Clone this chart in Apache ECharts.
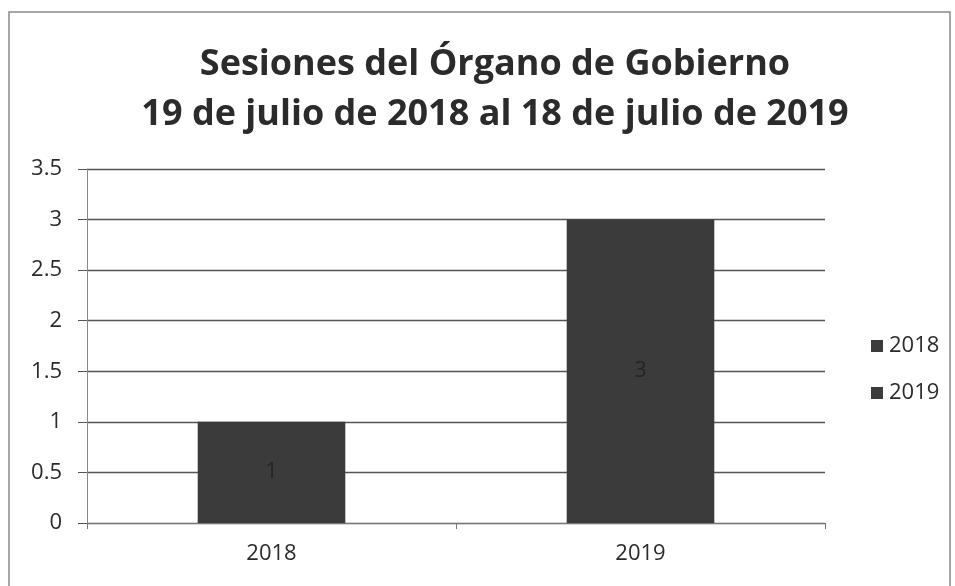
<!DOCTYPE html>
<html><head><meta charset="utf-8">
<script src="https://cdn.jsdelivr.net/npm/echarts@6/dist/echarts.min.js"></script>
<style>html,body{margin:0;padding:0;background:#fff}#c{width:955px;height:586px}</style>
</head><body><div id="c"></div>
<script>
const titleLines = ['Sesiones del Órgano de Gobierno', '19 de julio de 2018 al 18 de julio de 2019'];
const categories = ['2018', '2019'];
const seriesNames = ['2018', '2019'];
const values2018 = [1, '-'];
const values2019 = ['-', 3];
const yTicks = { min: 0, max: 3.5, interval: 0.5 };

const chart = echarts.init(document.getElementById('c'));
const font = '"Open Sans", sans-serif';
const barColor = '#3b3b3b';
const mkSeries = (name, data) => ({
  name, type: 'bar', stack: 's', data, barWidth: '40%',
  itemStyle: { color: barColor },
  label: { show: true, position: 'inside', color: '#242424', fontSize: 21, fontFamily: font },
  emphasis: { disabled: true }
});
chart.setOption({
  animation: false,
  title: {
    text: titleLines.join('\n'), left: 490, textAlign: 'center', top: 35,
    textStyle: { fontFamily: font, fontWeight: 'bold', fontSize: 36, lineHeight: 50, color: '#2b2b2b' }
  },
  graphic: [{ type: 'rect', shape: { x: 9, y: 12, width: 941, height: 590 }, style: { fill: 'none', stroke: '#8a8a8a', lineWidth: 1.5 }, silent: true }],
  legend: {
    orient: 'vertical', left: 866, top: 330, itemGap: 25, itemWidth: 12, itemHeight: 12,
    icon: 'rect', data: seriesNames,
    textStyle: { fontFamily: font, fontSize: 22, color: '#2b2b2b', padding: [0, 0, 0, 1] }
  },
  grid: { left: 87, right: 130, top: 169, bottom: 63, containLabel: false },
  xAxis: {
    type: 'category', data: categories,
    axisLine: { lineStyle: { color: '#777', width: 1 } },
    axisTick: { show: true, length: 6, lineStyle: { color: '#777' } },
    axisLabel: { fontFamily: font, fontSize: 22, color: '#2b2b2b', margin: 20 }
  },
  yAxis: {
    type: 'value', min: yTicks.min, max: yTicks.max, interval: yTicks.interval,
    axisLine: { show: true, lineStyle: { color: '#888', width: 1 } },
    axisTick: { show: true, length: 9, lineStyle: { color: '#555' } },
    splitLine: { lineStyle: { color: '#555', width: 1.3 } },
    axisLabel: { fontFamily: font, fontSize: 22, color: '#2b2b2b', margin: 25 }
  },
  series: [mkSeries(seriesNames[0], values2018), mkSeries(seriesNames[1], values2019)]
});
</script></body></html>
